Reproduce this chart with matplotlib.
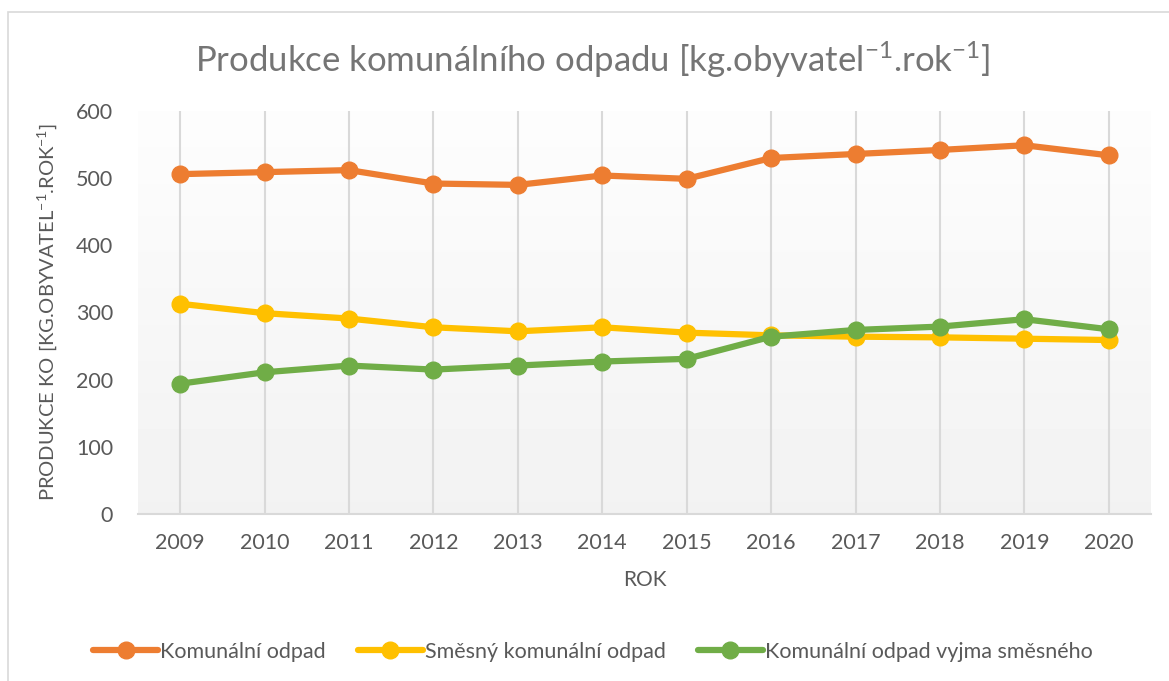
import matplotlib
matplotlib.use("Agg")
import matplotlib.pyplot as plt
import numpy as np
from matplotlib.patches import Rectangle

plt.rcParams['font.family'] = ['Lato', 'DejaVu Sans']
plt.rcParams['mathtext.fontset'] = 'custom'
plt.rcParams['mathtext.rm'] = 'Lato'
plt.rcParams['mathtext.it'] = 'Lato'
plt.rcParams['mathtext.bf'] = 'Lato'

years = ["2009", "2010", "2011", "2012", "2013", "2014", "2015", "2016", "2017", "2018", "2019", "2020"]
komunalni = [506, 509, 512, 492, 490, 504, 499, 530, 536, 542, 549, 534]
smesny = [313, 299, 291, 278, 272, 278, 270, 266, 264, 263, 261, 259]
bez_smesneho = [194, 211, 221, 215, 221, 227, 231, 264, 274, 279, 290, 275]

names = ["Komunální odpad", "Směsný komunální odpad", "Komunální odpad vyjma směsného"]
colors = ["#ED7D31", "#FFC000", "#70AD47"]
txt = "#595959"

W, H = 1169, 681
fig = plt.figure(figsize=(W / 100, H / 100), dpi=100)

# chart frame
fig.patches.append(Rectangle((8 / W, -0.1), 1.2, 1 - 12 / H + 0.1, transform=fig.transFigure,
                             fill=False, edgecolor="#d9d9d9", linewidth=1.2))

ax = fig.add_axes([138 / W, 1 - 514 / H, 1013 / W, 403 / H])
x = np.arange(len(years))

# gradient background of plot area
grad = np.linspace(0.992, 0.948, 100).reshape(-1, 1)
ax.imshow(grad, cmap="gray", vmin=0, vmax=1, aspect="auto",
          extent=(-0.5, len(years) - 0.5, 0, 600), origin="upper", zorder=0)

for vals, name, c in zip([komunalni, smesny, bez_smesneho], names, colors):
    ax.plot(x, vals, color=c, linewidth=4.5, marker="o", markersize=12,
            label=name, zorder=3, solid_capstyle="round")

ax.set_xlim(-0.5, len(years) - 0.5)
ax.set_ylim(0, 600)
ax.set_xticks(x)
ax.set_xticklabels(years)
ax.set_yticks(range(0, 601, 100))
ax.grid(axis="x", color="#d9d9d9", linewidth=1.5, zorder=1)
ax.set_axisbelow(True)
for s in ["top", "right", "left"]:
    ax.spines[s].set_visible(False)
ax.spines["bottom"].set_color("#d9d9d9")
ax.spines["bottom"].set_linewidth(1.5)
ax.tick_params(length=0, labelsize=15.5, labelcolor=txt)
ax.tick_params(axis="x", pad=14)
ax.tick_params(axis="y", pad=18)

ax.set_xlabel("ROK", fontsize=15, color=txt, labelpad=12)
ax.set_ylabel(r"PRODUKCE KO [KG.OBYVATEL$^{-1}$.ROK$^{-1}$]", fontsize=14.5, color=txt, labelpad=12)

fig.text(593 / W, 1 - 60 / H, r"Produkce komunálního odpadu [kg.obyvatel$^{-1}$.rok$^{-1}$]",
         ha="center", va="center", fontsize=25, color="#757575")

fig.legend(loc="center", bbox_to_anchor=(593 / W, 1 - 652 / H), ncol=3, frameon=False,
           fontsize=15.5, handlelength=3.0, handletextpad=0.1, columnspacing=1.5,
           labelcolor=txt)

fig.savefig("out.png", dpi=100, facecolor="white")
